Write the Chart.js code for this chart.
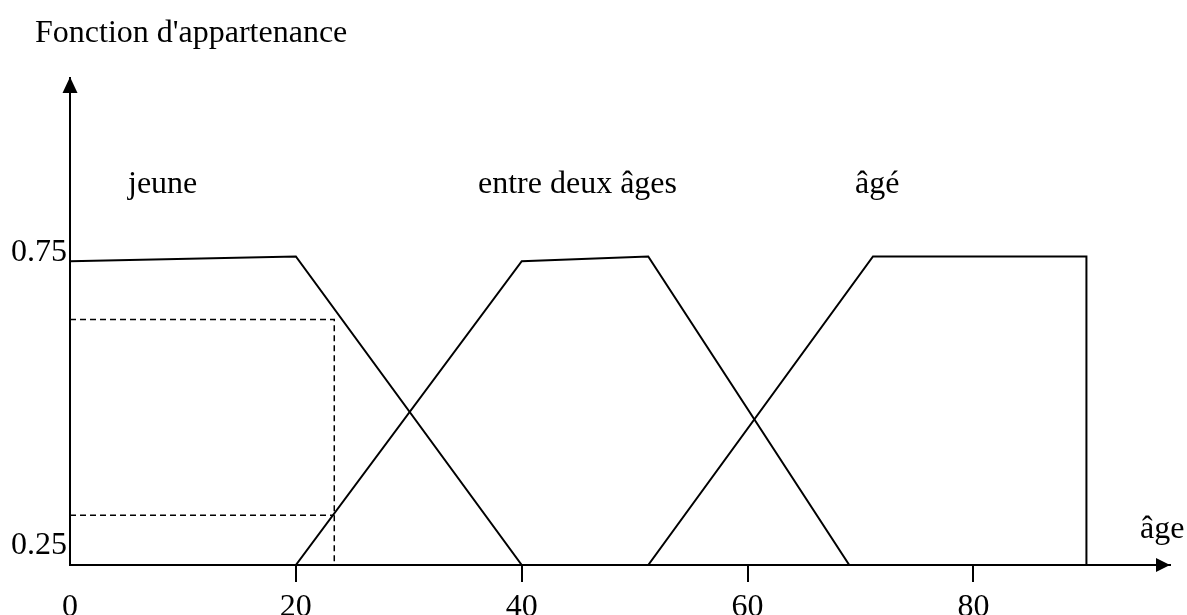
<html lang="fr">
<head>
    <meta charset="UTF-8">
    <title>Fonction d'appartenance</title>
    <script src="https://cdn.jsdelivr.net/npm/chart.js"></script>
    <style>
        body { margin: 0; background: #fff; }
        #cadre { width: 1187px; height: 615px; position: relative; }
    </style>
</head>
<body>
<div id="cadre"><canvas id="appartenance"></canvas></div>
<script>
    // Pied des trapèzes (posé sur l'axe des âges)
    const plancher = 0.211;

    // jeune
    const ageJeune = [0, 20, 40];
    const degreJeune = [0.731, 0.739, plancher];
    // entre deux âges
    const ageEntre = [20, 40, 51.2, 69];
    const degreEntre = [plancher, 0.731, 0.739, plancher];
    // âgé
    const ageVieux = [51.2, 71.1, 90, 90];
    const degreVieux = [plancher, 0.739, 0.739, plancher];

    // repères en pointillés
    const ageRepere = [0, 23.4, 23.4];
    const degreRepere = [0.631, 0.631, plancher];
    const ageRepereBas = [0, 23.4];
    const degreRepereBas = [0.296, 0.296];

    // graduations
    const graduationsAge = [0, 20, 40, 60, 80];
    const graduationsDegre = [0.25, 0.75];
    const etiquettesDegre = ['0.25', '0.75'];

    const police = "'Liberation Serif', 'Times New Roman', serif";

    function points(xs, ys) {
        return xs.map((x, i) => ({ x: x, y: ys[i] }));
    }

    function trait(data, pointille) {
        return {
            data: data,
            borderColor: '#000',
            borderWidth: pointille ? 1.5 : 2,
            borderDash: pointille ? [6, 4] : [],
            pointRadius: 0,
            tension: 0,
            fill: false
        };
    }

    // flèches des axes et textes
    const decor = {
        id: 'decor',
        afterDraw(chart) {
            const c = chart.ctx;
            const a = chart.chartArea;
            c.save();
            c.fillStyle = '#000';
            // flèche verticale
            c.beginPath();
            c.moveTo(a.left, a.top - 1);
            c.lineTo(a.left - 7.5, a.top + 15);
            c.lineTo(a.left + 7.5, a.top + 15);
            c.closePath();
            c.fill();
            // flèche horizontale
            c.beginPath();
            c.moveTo(a.right, a.bottom);
            c.lineTo(a.right - 14, a.bottom - 7);
            c.lineTo(a.right - 14, a.bottom + 7);
            c.closePath();
            c.fill();

            c.font = '32px ' + police;
            c.textBaseline = 'alphabetic';
            c.textAlign = 'left';
            c.fillText("Fonction d'appartenance", 35, 42);
            c.fillText('jeune', 128, 193);
            c.fillText('entre deux âges', 478, 193);
            c.fillText('âgé', 855, 193);
            c.fillText('âge', 1140, 538);
            c.restore();
        }
    };

    const ctx = document.getElementById('appartenance').getContext('2d');
    new Chart(ctx, {
        type: 'line',
        data: {
            datasets: [
                trait(points(ageJeune, degreJeune)),
                trait(points(ageEntre, degreEntre)),
                trait(points(ageVieux, degreVieux)),
                trait(points(ageRepere, degreRepere), true),
                trait(points(ageRepereBas, degreRepereBas), true)
            ]
        },
        options: {
            responsive: true,
            maintainAspectRatio: false,
            animation: false,
            layout: { padding: { top: 78, right: 17, left: 0, bottom: 0 } },
            plugins: {
                legend: { display: false },
                tooltip: { enabled: false }
            },
            scales: {
                x: {
                    type: 'linear',
                    min: 0,
                    max: 97.4,
                    afterBuildTicks: s => { s.ticks = graduationsAge.map(v => ({ value: v })); },
                    afterFit: s => { s.height = 50; },
                    grid: {
                        drawOnChartArea: false,
                        drawTicks: true,
                        tickLength: 17,
                        lineWidth: 2,
                        color: c => (c.tick && c.tick.value === 0) ? 'rgba(0,0,0,0)' : '#000'
                    },
                    border: { display: true, color: '#000', width: 2 },
                    ticks: {
                        color: '#000',
                        padding: 6,
                        maxRotation: 0,
                        font: { family: police, size: 32 }
                    }
                },
                y: {
                    type: 'linear',
                    min: plancher,
                    max: 1.0445,
                    afterBuildTicks: s => { s.ticks = graduationsDegre.map(v => ({ value: v })); },
                    afterFit: s => { s.width = 70; },
                    grid: { display: false, drawTicks: false },
                    border: { display: true, color: '#000', width: 2 },
                    ticks: {
                        color: '#000',
                        padding: 3,
                        labelOffset: 3,
                        font: { family: police, size: 32 },
                        callback: (v, i) => etiquettesDegre[i]
                    }
                }
            }
        },
        plugins: [decor]
    });
</script>
</body>
</html>
